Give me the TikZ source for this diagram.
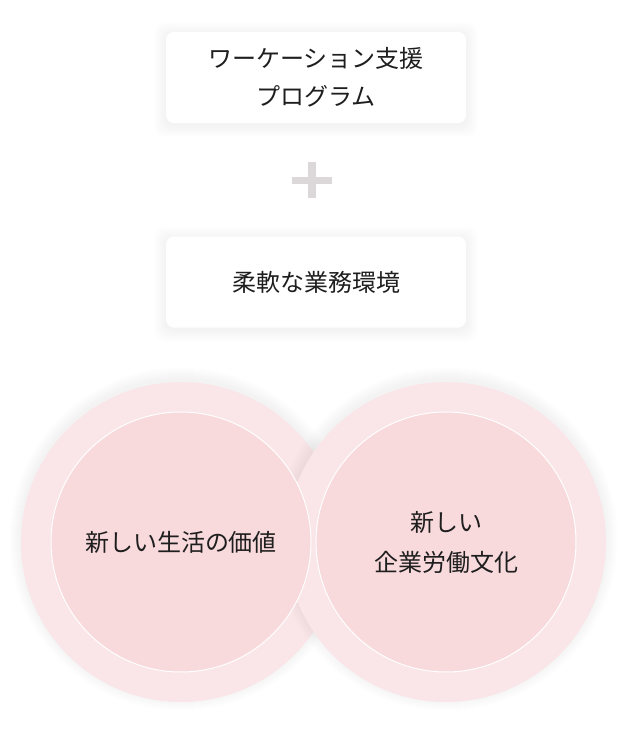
\documentclass[tikz,border=0pt]{standalone}
\usepackage{fontspec}
\setmainfont{Noto Sans CJK JP}
\usepackage{xcolor}
\definecolor{ringpink}{HTML}{FAE6E8}
\definecolor{corepink}{HTML}{F8D9DC}
\definecolor{plusgray}{HTML}{DCD8DA}
\definecolor{textdark}{HTML}{1E1E1E}
\tikzset{
	haze/.style={fill=black, fill opacity=0.005},
	card/.style={
			fill=white, rounded corners=8pt,
			minimum width=300pt, minimum height=91pt, inner sep=0pt,
			text=textdark, align=center,
			font=\fontsize{24}{38}\selectfont
		},
	ring/.style={
			circle, fill=ringpink, minimum size=320pt, inner sep=0pt
		},
	core/.style={
			circle, fill=corepink, draw=white, line width=1pt,
			minimum size=260pt, inner sep=0pt,
			text=textdark, align=center,
			font=\fontsize{24}{40}\selectfont
		}
}

\begin{document}
\begin{tikzpicture}[x=1pt,y=-1pt]
			\useasboundingbox[fill=white] (0,0) rectangle (628,732);
			\coordinate (programC) at (316,77.5);
			\coordinate (flexC) at (316,282);
			\coordinate (lifeC) at (181,542);
			\coordinate (workC) at (446,542);
			% soft shadows under the cards
			\foreach \c in {programC,flexC}
				\foreach \s in {1,...,12}
					\fill[haze, rounded corners=10pt]
					([shift={(-150-\s,-43.5-\s)}]\c) rectangle ([shift={(150+\s,47.5+\s)}]\c);
			% two cards and the plus between them
			\node[card] (programCard) at (programC) {ワーケーション支援\\プログラム};
			\fill[plusgray] (308,162) rectangle (316,198);
			\fill[plusgray] (292,176.5) rectangle (332,183.5);
			\node[card] (flexCard) at (flexC) {柔軟な業務環境};
			% the two circles
			\foreach \s in {1,...,12}
				\fill[haze] ([yshift=3pt]lifeC) circle (160+\s);
			\node[ring] (lifeRing) at (lifeC) {};
			\foreach \s in {1,...,12}
				\fill[haze] ([yshift=3pt]workC) circle (160+\s);
			\node[ring] (workRing) at (workC) {};
			\node[core] (lifeCore) at (lifeRing.center) {新しい生活の価値};
			\node[core] (workCore) at (workRing.center) {新しい\\企業労働文化};
		\end{tikzpicture}
\end{document}
